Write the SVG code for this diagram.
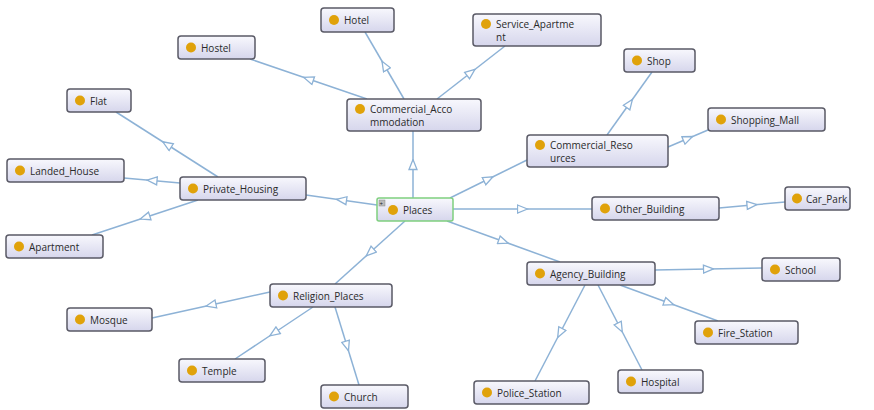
<svg xmlns="http://www.w3.org/2000/svg" width="874" height="410" viewBox="0 0 874 410">
<style>
.n rect.b{fill:url(#g);stroke:#5a5a66;stroke-width:1.5}
.n circle{fill:#e0a20a}
.n text{font-family:"Open Sans","DejaVu Sans",sans-serif;font-size:10px;fill:#2a2a2a}
.e path{fill:none;stroke:#8db2d6;stroke-width:1.5;marker-mid:url(#a)}
</style>
<defs>
<linearGradient id="g" x1="0" y1="0" x2="0" y2="1">
<stop offset="0" stop-color="#f8f8fd"/>
<stop offset="1" stop-color="#d6d6ec"/>
</linearGradient>
<marker id="a" viewBox="0 0 12 10" refX="6" refY="5" markerWidth="12" markerHeight="10" markerUnits="userSpaceOnUse" orient="auto">
<path d="M1,1 L11,5 L1,9 Z" fill="#fff" stroke="#8db2d6" stroke-width="1.3"/>
</marker>
</defs>
<rect width="874" height="410" fill="#fff"/>
<g id="edges" class="e">
<path d="M413,198 L413,164.5 L413,131"/>
<path d="M377,205 L341.5,200 L306,195"/>
<path d="M450,198 L488.5,179 L527,160"/>
<path d="M453,209 L522.5,209 L592,209"/>
<path d="M447,221 L503.5,241.5 L560,262"/>
<path d="M405,221 L370,252.5 L335,284"/>
<path d="M367,99 L308.5,79 L250,59"/>
<path d="M404,99 L384.5,65.5 L365,32"/>
<path d="M437,99 L471,72.5 L505,46"/>
<path d="M607,135 L629.5,103.5 L652,72"/>
<path d="M668,147 L688,138.5 L708,130"/>
<path d="M719,208 L752,205 L785,202"/>
<path d="M218,177 L167,144.5 L116,112"/>
<path d="M180,183 L152,180.5 L124,178"/>
<path d="M198,200 L145,217.5 L92,235"/>
<path d="M655,270 L708.5,269 L762,268"/>
<path d="M620,285 L669,303 L718,321"/>
<path d="M598,285 L620,327.5 L642,370"/>
<path d="M585,285 L560,333 L535,381"/>
<path d="M270,292 L211,305 L152,318"/>
<path d="M313,307 L274,333 L235,359"/>
<path d="M335,307 L347,346 L359,385"/>
</g>
<g id="Hotel" class="n"><rect class="b" x="321" y="8" width="73" height="24" rx="3"/><circle cx="334" cy="20" r="5"/><text x="344" y="24">Hotel</text></g>
<g id="Service_Apartment" class="n"><rect class="b" x="473" y="14" width="128" height="32" rx="3"/><circle cx="486" cy="24" r="5"/><text x="496" y="28">Service_Apartme</text><text x="496" y="41">nt</text></g>
<g id="Hostel" class="n"><rect class="b" x="178" y="36" width="77" height="23" rx="3"/><circle cx="191" cy="47.5" r="5"/><text x="201" y="51.5">Hostel</text></g>
<g id="Commercial_Accommodation" class="n"><rect class="b" x="347" y="99" width="134" height="32" rx="3"/><circle cx="360" cy="109" r="5"/><text x="370" y="113">Commercial_Acco</text><text x="370" y="126">mmodation</text></g>
<g id="Shop" class="n"><rect class="b" x="624" y="49" width="71" height="23" rx="3"/><circle cx="637" cy="60.5" r="5"/><text x="647" y="64.5">Shop</text></g>
<g id="Shopping_Mall" class="n"><rect class="b" x="708" y="108" width="117" height="23" rx="3"/><circle cx="721" cy="119.5" r="5"/><text x="731" y="123.5">Shopping_Mall</text></g>
<g id="Commercial_Resources" class="n"><rect class="b" x="527" y="135" width="141" height="32" rx="3"/><circle cx="540" cy="145" r="5"/><text x="550" y="149">Commercial_Reso</text><text x="550" y="162">urces</text></g>
<g id="Flat" class="n"><rect class="b" x="67" y="89" width="64" height="23" rx="3"/><circle cx="80" cy="100.5" r="5"/><text x="90" y="104.5">Flat</text></g>
<g id="Landed_House" class="n"><rect class="b" x="7" y="159" width="117" height="23" rx="3"/><circle cx="20" cy="170.5" r="5"/><text x="30" y="174.5">Landed_House</text></g>
<g id="Private_Housing" class="n"><rect class="b" x="180" y="177" width="126" height="23" rx="3"/><circle cx="193" cy="188.5" r="5"/><text x="203" y="192.5">Private_Housing</text></g>
<g id="Places" class="n"><rect class="b" x="377" y="198" width="76" height="23" rx="2" style="stroke:#7fcf7f"/><rect x="379" y="200" width="6" height="6" fill="#bbb" stroke="#888" stroke-width="0.5"/><text x="379.5" y="205.5" style="font-size:6px;fill:#222">+</text><circle cx="393" cy="210" r="5"/><text x="403" y="214">Places</text></g>
<g id="Other_Building" class="n"><rect class="b" x="592" y="197" width="127" height="23" rx="3"/><circle cx="605" cy="208.5" r="5"/><text x="615" y="212.5">Other_Building</text></g>
<g id="Car_Park" class="n"><rect class="b" x="785" y="187" width="65" height="23" rx="3"/><circle cx="797" cy="198.5" r="5"/><text x="806" y="202.5">Car_Park</text></g>
<g id="Apartment" class="n"><rect class="b" x="6" y="235" width="97" height="23" rx="3"/><circle cx="19" cy="246.5" r="5"/><text x="29" y="250.5">Apartment</text></g>
<g id="Agency_Building" class="n"><rect class="b" x="527" y="262" width="128" height="23" rx="3"/><circle cx="540" cy="273.5" r="5"/><text x="550" y="277.5">Agency_Building</text></g>
<g id="School" class="n"><rect class="b" x="762" y="258" width="78" height="23" rx="3"/><circle cx="775" cy="269.5" r="5"/><text x="785" y="273.5">School</text></g>
<g id="Religion_Places" class="n"><rect class="b" x="270" y="284" width="122" height="23" rx="3"/><circle cx="283" cy="295.5" r="5"/><text x="293" y="299.5">Religion_Places</text></g>
<g id="Mosque" class="n"><rect class="b" x="67" y="308" width="85" height="23" rx="3"/><circle cx="80" cy="319.5" r="5"/><text x="90" y="323.5">Mosque</text></g>
<g id="Fire_Station" class="n"><rect class="b" x="695" y="321" width="103" height="23" rx="3"/><circle cx="708" cy="332.5" r="5"/><text x="718" y="336.5">Fire_Station</text></g>
<g id="Temple" class="n"><rect class="b" x="179" y="359" width="86" height="23" rx="3"/><circle cx="192" cy="370.5" r="5"/><text x="202" y="374.5">Temple</text></g>
<g id="Hospital" class="n"><rect class="b" x="618" y="370" width="85" height="23" rx="3"/><circle cx="631" cy="381.5" r="5"/><text x="641" y="385.5">Hospital</text></g>
<g id="Police_Station" class="n"><rect class="b" x="474" y="381" width="115" height="23" rx="3"/><circle cx="487" cy="392.5" r="5"/><text x="497" y="396.5">Police_Station</text></g>
<g id="Church" class="n"><rect class="b" x="321" y="385" width="87" height="23" rx="3"/><circle cx="334" cy="396.5" r="5"/><text x="344" y="400.5">Church</text></g>
</svg>
